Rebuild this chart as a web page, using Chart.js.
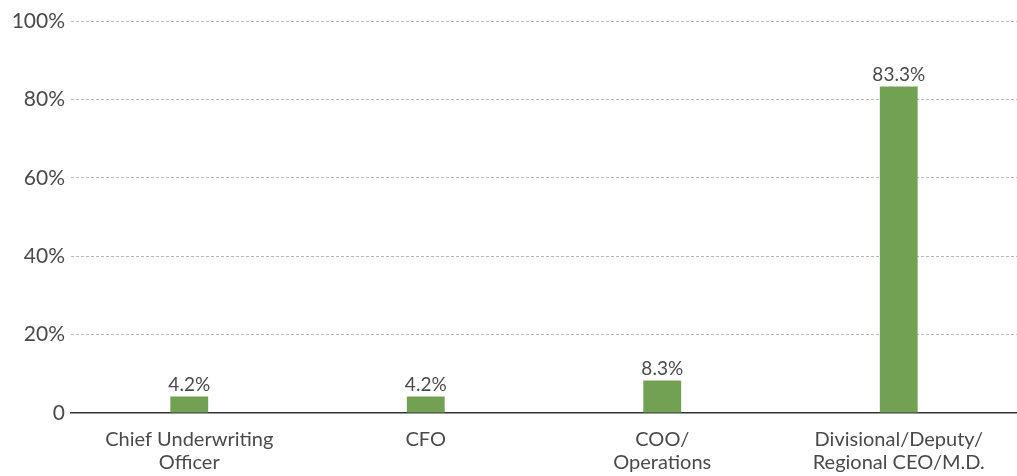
<!DOCTYPE html>
<html>
<head>
<meta charset="utf-8">
<script src="https://cdn.jsdelivr.net/npm/chart.js@4/dist/chart.umd.min.js"></script>
<style>
  body { margin: 0; background: #fff; }
  #wrap { width: 1017px; height: 476px; }
</style>
</head>
<body>
<div id="wrap"><canvas id="graph" width="1017" height="476"></canvas></div>
<script>
const categories = [
  ['Chief Underwriting', 'Officer'],
  'CFO',
  ['COO/', 'Operations'],
  ['Divisional/Deputy/', 'Regional CEO/M.D.']
];
const shares = [4.2, 4.2, 8.3, 83.3];
const yTicks = [0, 20, 40, 60, 80, 100];

const textColor = '#4a4a4a';
const fontFamily = 'Lato, "Open Sans", sans-serif';

// draws the value above each bar
const valueLabels = {
  id: 'valueLabels',
  afterDatasetsDraw(chart) {
    const ctx = chart.ctx;
    const meta = chart.getDatasetMeta(0);
    ctx.save();
    ctx.font = '19px ' + fontFamily;
    ctx.fillStyle = textColor;
    ctx.textAlign = 'center';
    ctx.textBaseline = 'bottom';
    meta.data.forEach((bar, i) => {
      ctx.fillText(shares[i].toFixed(1) + '%', bar.x, bar.y - 2);
    });
    ctx.restore();
  }
};

const config = {
  type: 'bar',
  data: {
    labels: categories,
    datasets: [{
      data: shares,
      backgroundColor: '#72a153',
      barPercentage: 0.16,
      categoryPercentage: 1
    }]
  },
  options: {
    responsive: false,
    animation: false,
    layout: { padding: { top: 21, right: 0, left: 0, bottom: 0 } },
    plugins: { legend: { display: false }, tooltip: { enabled: false } },
    scales: {
      x: {
        grid: { display: false, drawTicks: false },
        border: { display: true, color: '#333', width: 1.5 },
        ticks: {
          color: textColor,
          font: { family: fontFamily, size: 20, lineHeight: 1.15 },
          padding: 15,
          maxRotation: 0,
          autoSkip: false
        },
        afterFit(scale) { scale.height = 63; }
      },
      y: {
        min: 0,
        max: 100,
        afterBuildTicks(scale) { scale.ticks = yTicks.map(v => ({ value: v })); },
        afterFit(scale) { scale.width = 71; },
        grid: {
          color: ctx => ctx.tick && ctx.tick.value === 0 ? 'rgba(0,0,0,0)' : '#b8b8b8',
          lineWidth: 1,
          drawTicks: false
        },
        border: { display: false, dash: [3, 2] },
        ticks: {
          color: textColor,
          font: { family: fontFamily, size: 21 },
          padding: 6,
          callback: v => v === 0 ? '0' : v + '%'
        }
      }
    }
  },
  plugins: [valueLabels]
};

const graph = new Chart(document.getElementById('graph'), config);
</script>
</body>
</html>
